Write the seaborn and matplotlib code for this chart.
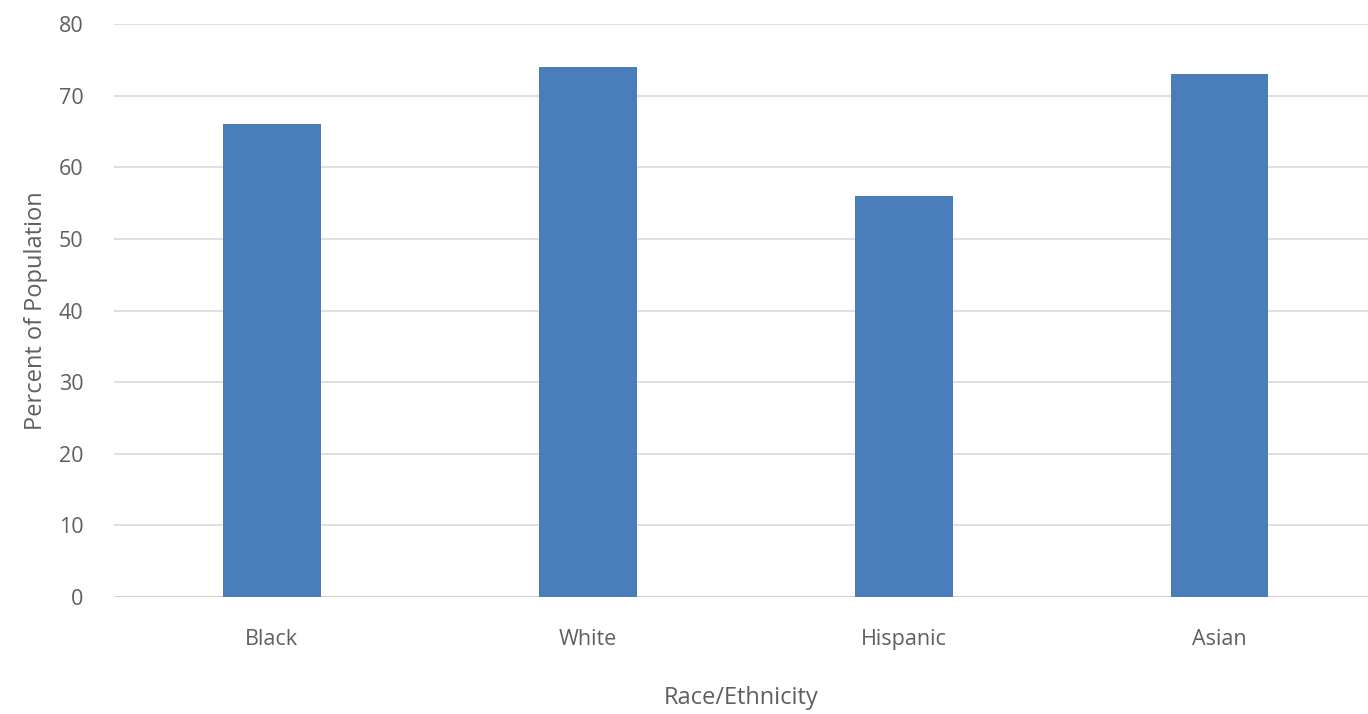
import seaborn as sns
import matplotlib.pyplot as plt
import pandas as pd

# values
groups = ["Black", "White", "Hispanic", "Asian"]
percent = [66, 74, 56, 73]

df = pd.DataFrame({"group": groups, "percent": percent})

sns.set_theme(style="white")
plt.rcParams['font.family'] = ['Open Sans', 'DejaVu Sans']

fig = plt.figure(figsize=(13.68, 7.14), dpi=100)
ax = fig.add_axes([0.0833, 0.164, 0.9167, 0.802])

sns.barplot(data=df, x="group", y="percent", color="#4a7ebb",
            width=0.31, saturation=1, linewidth=0, ax=ax, zorder=3)

ax.set_ylim(0, 80)
ax.set_yticks(range(0, 81, 10))
ax.set_xlim(-0.5, 3.47)
ax.yaxis.grid(True, color="#d9d9d9", linewidth=1.2, zorder=0)
ax.set_axisbelow(True)
sns.despine(ax=ax, left=True, top=True, right=True, bottom=True)
ax.axhline(0, color="#d0d0d0", linewidth=1.5, zorder=2)

ax.tick_params(axis="both", length=0, labelsize=15.5, labelcolor="#5f5f5f")
ax.tick_params(axis="y", pad=22)
ax.tick_params(axis="x", pad=23)

ax.set_xlabel("Race/Ethnicity", fontsize=17, color="#5f5f5f", labelpad=26)
ax.set_ylabel("Percent of Population", fontsize=17, color="#5f5f5f", labelpad=8)

fig.savefig("out.png", dpi=100)
